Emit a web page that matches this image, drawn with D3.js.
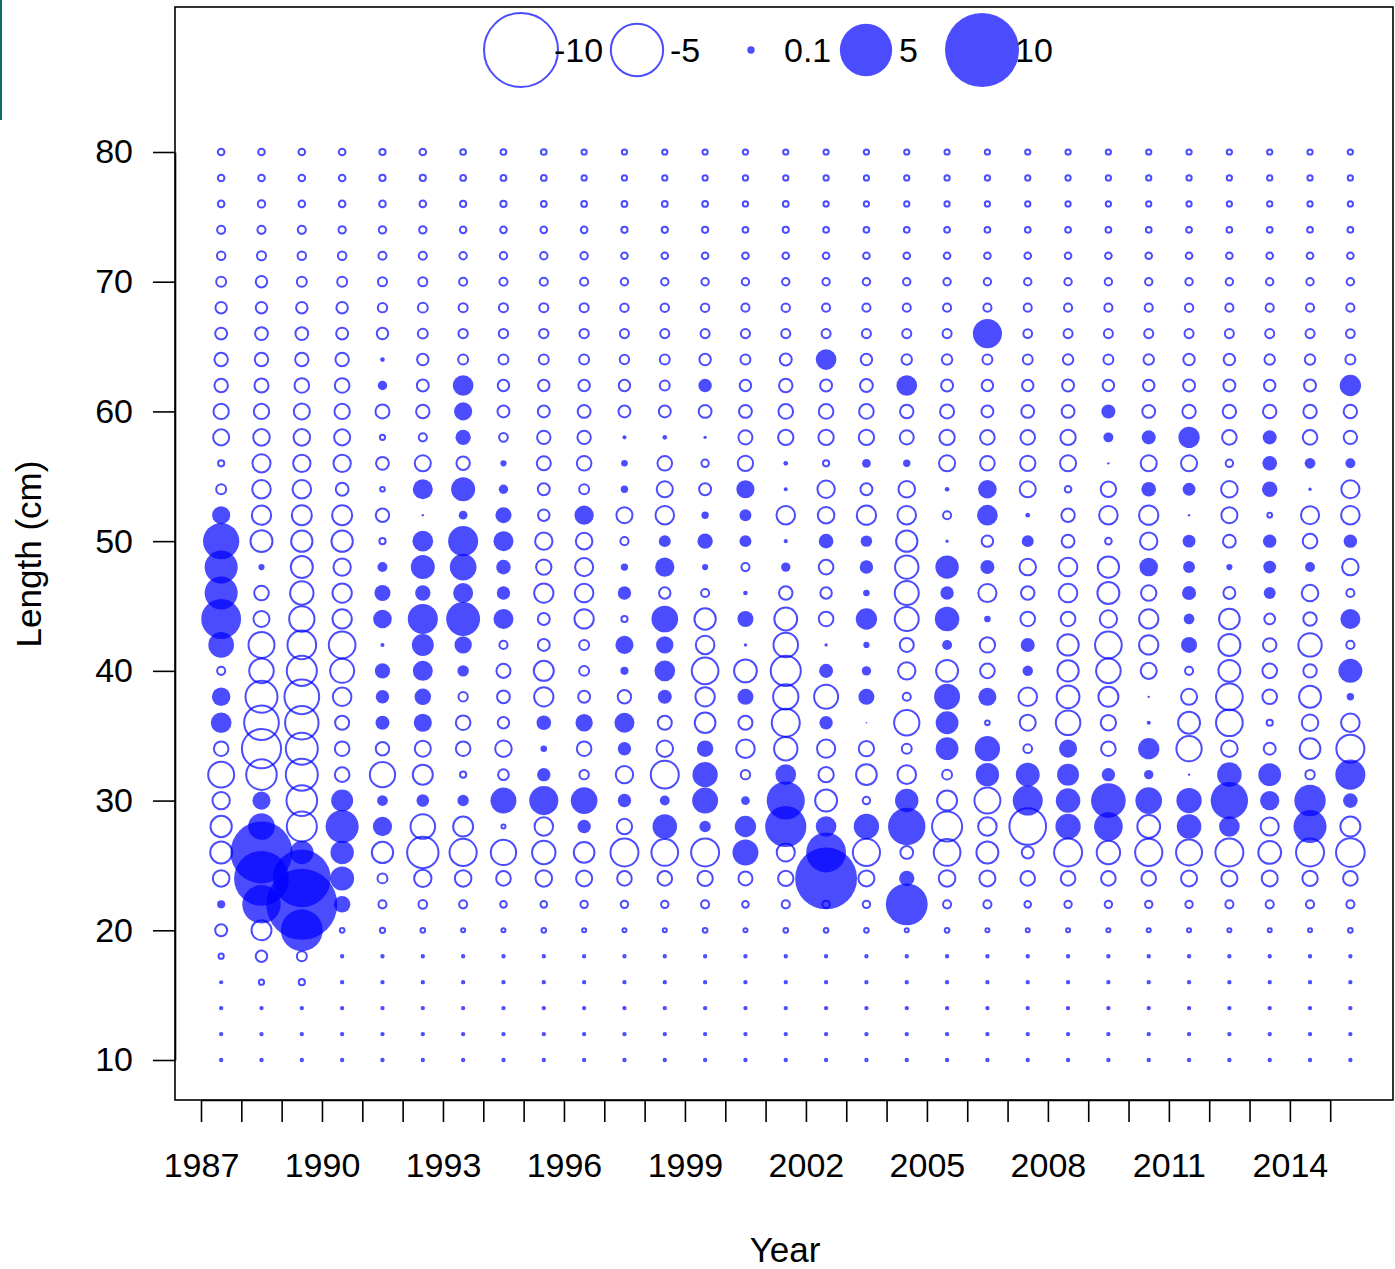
<!DOCTYPE html>
<html><head><meta charset="utf-8">
<script src="https://cdn.jsdelivr.net/npm/d3@7"></script>
<style>
body{margin:0;background:#fff}
text{font-family:"Liberation Sans",Arial,sans-serif}
</style>
</head><body>
<svg id="chart" width="1395" height="1269"></svg>
<script>
// ---------------- DATA ----------------
const years = [1987,1988,1989,1990,1991,1992,1993,1994,1995,1996,1997,1998,1999,2000,2001,2002,2003,2004,2005,2006,2007,2008,2009,2010,2011,2012,2013,2014,2015];
const lengths = [80,78,76,74,72,70,68,66,64,62,60,58,56,54,52,50,48,46,44,42,40,38,36,34,32,30,28,26,24,22,20,18,16,14,12,10];
const yTickValues = [10,20,30,40,50,60,70,80];
const xTickLabels = [1987,1990,1993,1996,1999,2002,2005,2008,2011,2014];
const legendValues = [-10,-5,0.1,5,10];
const legendLabels = ["-10","-5","0.1","5","10"];
const xLabel = "Year";
const yLabel = "Length (cm)";

// Pearson residuals, one array per year, lengths 80 -> 10
const r1987 = [-0.08,-0.08,-0.08,-0.12,-0.13,-0.18,-0.24,-0.26,-0.33,-0.33,-0.43,-0.47,-0.07,-0.18,0.6,2.4,2.0,2.0,2.9,1.2,-0.12,0.63,0.78,-0.39,-1.23,-0.55,-0.83,-0.88,-0.5,0.12,-0.26,-0.05,0.03,-0.01,-0.01,-0.01];
const r1988 = [-0.08,-0.08,-0.1,-0.12,-0.15,-0.24,-0.24,-0.3,-0.33,-0.36,-0.43,-0.5,-0.6,-0.63,-0.68,-0.88,0.07,-0.39,-0.47,-1.23,-1.1,-1.87,-2.2,-2.8,-1.7,0.6,1.3,7.0,5.5,2.7,-0.73,-0.24,-0.05,-0.01,-0.01,-0.01];
const r1989 = [-0.08,-0.08,-0.08,-0.12,-0.13,-0.18,-0.24,-0.3,-0.33,-0.39,-0.47,-0.5,-0.55,-0.63,-0.73,-0.83,-0.88,-1.0,-1.17,-1.5,-1.65,-2.2,-2.05,-1.87,-1.87,-1.72,-1.65,1.0,6.1,9.2,3.2,-0.18,-0.07,-0.01,-0.01,-0.01];
const r1990 = [-0.08,-0.08,-0.08,-0.1,-0.13,-0.18,-0.24,-0.26,-0.33,-0.39,-0.43,-0.47,-0.55,-0.3,-0.73,-0.83,-0.55,-0.68,-0.68,-1.3,-1.05,-0.63,-0.36,-0.39,-0.39,0.88,2.0,1.0,1.05,0.5,-0.04,-0.01,-0.01,-0.01,-0.01,-0.01];
const r1991 = [-0.07,-0.07,-0.08,-0.1,-0.12,-0.15,-0.16,-0.24,0.04,0.16,-0.36,-0.05,-0.3,-0.04,-0.33,-0.07,0.18,0.47,0.63,0.03,0.43,0.33,0.36,-0.33,-1.17,0.21,0.68,-0.83,-0.18,-0.12,-0.05,-0.01,-0.01,-0.01,-0.01,-0.01];
const r1992 = [-0.08,-0.07,-0.08,-0.1,-0.12,-0.15,-0.18,-0.18,-0.24,-0.26,-0.33,-0.12,-0.47,0.73,0.01,0.78,1.05,0.43,1.65,0.88,0.73,0.5,0.6,-0.47,-0.73,0.29,-1.1,-1.8,-0.55,-0.14,-0.04,-0.01,-0.01,-0.01,-0.01,-0.01];
const r1993 = [-0.06,-0.06,-0.07,-0.08,-0.1,-0.12,-0.15,-0.16,-0.18,0.78,0.6,0.43,-0.33,1.05,0.14,1.65,1.3,0.73,2.1,0.55,0.24,-0.16,-0.39,-0.39,-0.07,0.24,-0.73,-1.35,-0.5,-0.12,-0.03,-0.01,-0.01,-0.01,-0.01,-0.01];
const r1994 = [-0.06,-0.06,-0.07,-0.08,-0.1,-0.12,-0.15,-0.16,-0.18,-0.24,-0.26,-0.14,0.07,0.16,0.47,0.73,0.39,0.33,0.73,-0.12,-0.36,-0.3,-0.24,-0.5,-0.21,1.23,-0.03,-1.17,-0.39,-0.08,-0.03,-0.01,-0.01,-0.01,-0.01,-0.01];
const r1995 = [-0.06,-0.06,-0.06,-0.08,-0.1,-0.12,-0.15,-0.16,-0.18,-0.24,-0.26,-0.33,-0.36,-0.26,-0.24,-0.55,-0.43,-0.68,-0.26,-0.26,-0.73,-0.68,0.39,0.08,0.33,1.55,-0.63,-1.0,-0.5,-0.08,-0.04,-0.01,-0.01,-0.01,-0.01,-0.01];
const r1996 = [-0.05,-0.05,-0.06,-0.08,-0.1,-0.12,-0.15,-0.16,-0.18,-0.24,-0.3,-0.33,-0.39,-0.18,0.68,-0.5,-0.6,-0.63,-0.68,-0.18,-0.18,-0.26,0.55,-0.39,-0.16,1.3,0.33,-0.78,-0.47,-0.1,-0.03,-0.01,-0.01,-0.01,-0.01,-0.01];
const r1997 = [-0.05,-0.05,-0.06,-0.07,-0.08,-0.1,-0.13,-0.15,-0.16,-0.24,-0.26,0.03,0.08,0.1,-0.47,-0.12,0.1,0.33,-0.07,0.6,0.12,-0.33,0.73,0.33,-0.55,0.33,-0.43,-1.43,-0.39,-0.1,-0.03,-0.01,-0.01,-0.01,-0.01,-0.01];
const r1998 = [-0.05,-0.05,-0.06,-0.07,-0.08,-0.1,-0.13,-0.15,-0.18,-0.18,-0.26,0.04,-0.39,-0.47,-0.63,0.26,0.68,-0.24,1.3,0.55,0.78,0.36,-0.36,-0.5,-1.43,0.18,1.1,-1.3,-0.39,-0.1,-0.03,-0.01,-0.01,-0.01,-0.01,-0.01];
const r1999 = [-0.05,-0.05,-0.06,-0.07,-0.08,-0.1,-0.13,-0.15,-0.24,0.33,-0.3,0.02,-0.1,-0.26,0.1,0.43,0.07,-0.12,-0.83,-0.63,-1.3,-0.68,-0.78,0.5,1.17,1.23,0.24,-1.43,-0.43,-0.12,-0.04,-0.01,-0.01,-0.01,-0.01,-0.01];
const r2000 = [-0.05,-0.05,-0.05,-0.06,-0.08,-0.1,-0.12,-0.15,-0.18,-0.24,-0.3,-0.36,-0.43,0.6,0.26,0.26,-0.12,0.04,0.47,0.02,-0.95,0.47,-0.36,-0.63,-0.16,0.14,0.83,1.23,-0.36,-0.08,-0.03,-0.01,-0.01,-0.01,-0.01,-0.01];
const r2001 = [-0.05,-0.05,-0.06,-0.07,-0.08,-0.1,-0.13,-0.15,-0.26,-0.33,-0.39,-0.43,0.04,0.03,-0.63,0.03,0.16,-0.33,-0.95,-1.1,-1.65,-1.17,-1.43,-1.0,0.78,2.65,3.1,-0.6,-0.43,-0.12,-0.04,-0.01,-0.01,-0.01,-0.01,-0.01];
const r2002 = [-0.05,-0.05,-0.05,-0.06,-0.08,-0.1,-0.12,-0.15,0.78,-0.26,-0.39,-0.43,-0.07,-0.55,-0.5,0.39,-0.39,-0.24,-0.39,0.02,0.36,-1.05,0.33,-0.6,-0.43,-0.88,0.78,2.9,7.0,-0.1,-0.04,-0.01,-0.01,-0.01,-0.01,-0.01];
const r2003 = [-0.05,-0.05,-0.05,-0.06,-0.08,-0.1,-0.12,-0.15,-0.24,-0.3,-0.39,-0.43,0.14,-0.26,-0.68,0.24,0.33,0.08,0.83,0.07,0.16,0.47,0.005,-0.43,-0.78,-0.1,1.17,-1.35,-0.47,-0.1,-0.04,-0.01,-0.01,-0.01,-0.01,-0.01];
const r2004 = [-0.05,-0.05,-0.05,-0.06,-0.08,-0.1,-0.12,-0.15,-0.2,0.78,-0.33,-0.36,0.1,-0.5,-0.63,-0.83,-1.0,-1.05,-1.05,-0.36,-0.55,-0.12,-1.17,-0.18,-0.63,1.0,2.55,-0.3,0.43,3.2,-0.03,-0.01,-0.01,-0.01,-0.01,-0.01];
const r2005 = [-0.05,-0.05,-0.05,-0.06,-0.08,-0.1,-0.12,-0.15,-0.2,-0.26,-0.36,-0.43,-0.47,0.04,-0.12,0.02,1.0,0.33,1.1,0.18,-0.88,1.23,0.95,0.95,-0.18,-0.73,-1.65,-1.3,-0.5,-0.12,-0.04,-0.01,-0.01,-0.01,-0.01,-0.01];
const r2006 = [-0.05,-0.05,-0.05,-0.06,-0.08,-0.1,-0.12,1.55,-0.18,-0.24,-0.26,-0.39,-0.39,0.63,0.78,-0.24,0.36,-0.6,0.08,-0.43,-0.39,0.6,-0.04,1.17,1.0,-1.23,-0.63,-0.88,-0.47,-0.12,-0.03,-0.01,-0.01,-0.01,-0.01,-0.01];
const r2007 = [-0.05,-0.05,-0.05,-0.06,-0.08,-0.1,-0.12,-0.14,-0.18,-0.24,-0.3,-0.39,-0.43,-0.47,0.04,0.26,-0.5,-0.33,-0.39,0.36,0.2,-0.63,-0.47,-0.14,1.05,1.65,-2.45,-0.26,-0.39,-0.08,-0.03,-0.01,-0.01,-0.01,-0.01,-0.01];
const r2008 = [-0.05,-0.05,-0.05,-0.06,-0.08,-0.1,-0.12,-0.15,-0.2,-0.26,-0.3,-0.43,-0.47,-0.08,-0.33,-0.3,-0.63,-0.63,-0.39,-0.83,-0.83,-0.95,-1.1,0.6,0.88,1.1,1.17,-1.43,-0.39,-0.1,-0.03,-0.01,-0.01,-0.01,-0.01,-0.01];
const r2009 = [-0.05,-0.05,-0.05,-0.06,-0.08,-0.1,-0.12,-0.15,-0.18,-0.24,0.36,0.18,0.01,-0.43,-0.63,-0.08,-0.83,-0.88,-0.55,-1.3,-1.1,-0.73,-0.43,-0.39,0.33,2.2,1.5,-1.0,-0.39,-0.1,-0.03,-0.01,-0.01,-0.01,-0.01,-0.01];
const r2010 = [-0.05,-0.05,-0.05,-0.06,-0.08,-0.1,-0.12,-0.15,-0.2,-0.24,-0.3,0.36,-0.47,0.39,-0.68,-0.55,0.63,-0.43,-0.68,-0.68,-0.47,0.01,0.03,0.83,0.16,1.3,-0.95,-1.35,-0.39,-0.1,-0.03,-0.01,-0.01,-0.01,-0.01,-0.01];
const r2011 = [-0.05,-0.05,-0.05,-0.06,-0.08,-0.1,-0.13,-0.15,-0.24,-0.26,-0.33,0.83,-0.47,0.3,0.01,0.3,0.26,0.36,0.21,0.47,-0.12,-0.47,-0.88,-1.17,0.01,1.17,1.1,-1.23,-0.47,-0.1,-0.03,-0.01,-0.01,-0.01,-0.01,-0.01];
const r2012 = [-0.05,-0.05,-0.05,-0.06,-0.08,-0.1,-0.12,-0.15,-0.24,-0.26,-0.33,-0.39,-0.1,-0.5,-0.47,-0.3,0.07,-0.26,-0.78,-0.88,-0.88,-1.3,-1.3,-0.5,1.1,2.55,0.78,-1.43,-0.47,-0.12,-0.03,-0.01,-0.01,-0.01,-0.01,-0.01];
const r2013 = [-0.05,-0.05,-0.05,-0.06,-0.08,-0.1,-0.12,-0.15,-0.2,-0.24,-0.33,0.36,0.39,0.43,-0.04,0.33,0.3,0.26,-0.21,-0.33,-0.39,-0.39,-0.07,-0.26,0.95,0.68,-0.6,-0.95,-0.47,-0.12,-0.03,-0.01,-0.01,-0.01,-0.01,-0.01];
const r2014 = [-0.05,-0.05,-0.05,-0.06,-0.08,-0.1,-0.12,-0.15,-0.2,-0.26,-0.33,-0.39,0.21,0.02,-0.6,-0.39,0.18,-0.5,-0.33,-1.0,-0.33,-0.88,-0.5,-0.78,-0.16,1.8,2.0,-1.43,-0.43,-0.12,-0.03,-0.01,-0.01,-0.01,-0.01,-0.01];
const r2015 = [-0.05,-0.05,-0.05,-0.06,-0.08,-0.1,-0.12,-0.14,-0.18,0.83,-0.33,-0.33,0.18,-0.6,-0.63,0.33,-0.5,-0.12,0.73,-0.12,1.05,0.1,-0.63,-1.43,1.65,0.39,-0.73,-1.5,-0.39,-0.12,-0.04,-0.01,-0.01,-0.01,-0.01,-0.01];

const residualsByYear = [r1987,r1988,r1989,r1990,r1991,r1992,r1993,r1994,r1995,r1996,r1997,r1998,r1999,r2000,r2001,r2002,r2003,r2004,r2005,r2006,r2007,r2008,r2009,r2010,r2011,r2012,r2013,r2014,r2015];

// ---------------- DRAWING ----------------
const svg = d3.select("#chart");
const box = {left:175, top:7, right:1393, bottom:1100};
const blue = "rgba(0,0,255,0.7)";
const FS = 34;
const SW = 2;

// decorative teal edge line at top-left
svg.append("rect").attr("x",0).attr("y",0).attr("width",2).attr("height",120).attr("fill","#0e6b60");

const x = d3.scaleLinear().domain([1987, 2015]).range([201, 1330.2]);
const y = d3.scaleLinear().domain([10, 80]).range([1060, 152]);
const size = d3.scaleSqrt().domain([0, 10]).range([0, 37]);

// flatten data
const points = [];
years.forEach((yr, i) => {
  residualsByYear[i].forEach((v, j) => {
    points.push({year: yr, len: lengths[j], v: v});
  });
});
points.sort((a, b) => Math.abs(b.v) - Math.abs(a.v));

svg.append("g").selectAll("circle").data(points).join("circle")
  .attr("cx", d => x(d.year + 0.5))
  .attr("cy", d => y(d.len))
  .attr("r", d => size(Math.abs(d.v)))
  .attr("fill", d => d.v > 0 ? blue : "none")
  .attr("stroke", d => d.v > 0 ? "none" : blue)
  .attr("stroke-width", SW);

// plot box
svg.append("rect")
  .attr("x", box.left).attr("y", box.top)
  .attr("width", box.right - box.left).attr("height", box.bottom - box.top)
  .attr("fill", "none").attr("stroke", "#000").attr("stroke-width", 1.6);

// y axis
const yAxis = d3.axisLeft(y).tickValues(yTickValues).tickSize(22).tickSizeOuter(0).tickPadding(20).tickFormat(d3.format("d"));
const gy = svg.append("g").attr("transform", `translate(${box.left},0)`).call(yAxis);
gy.selectAll("text").attr("font-size", FS).attr("fill", "#000").attr("font-family", '"Liberation Sans",Arial,sans-serif');
gy.selectAll("line,path").attr("stroke", "#000").attr("stroke-width", 1.6);

// x axis
const xAxis = d3.axisBottom(x).tickValues(years).tickSize(22).tickSizeOuter(0).tickPadding(31)
  .tickFormat(d => xTickLabels.includes(d) ? String(d) : "");
const gx = svg.append("g").attr("transform", `translate(0,${box.bottom})`).call(xAxis);
gx.selectAll("text").attr("font-size", FS).attr("fill", "#000").attr("font-family", '"Liberation Sans",Arial,sans-serif');
gx.selectAll("line,path").attr("stroke", "#000").attr("stroke-width", 1.6);

// axis titles
svg.append("text").attr("x", 785).attr("y", 1262).attr("text-anchor", "middle")
  .attr("font-size", 35).text(xLabel);
svg.append("text").attr("transform", "translate(41,554) rotate(-90)").attr("text-anchor", "middle")
  .attr("font-size", 35).text(yLabel);

// legend
const legendX = d3.scaleOrdinal().domain(legendValues).range([521, 637, 751, 866, 982]);
const lg = svg.append("g");
lg.selectAll("circle").data(legendValues).join("circle")
  .attr("cx", d => legendX(d)).attr("cy", 50)
  .attr("r", d => size(Math.abs(d)))
  .attr("fill", d => d > 0 ? blue : "none")
  .attr("stroke", d => d > 0 ? "none" : blue)
  .attr("stroke-width", SW);
lg.selectAll("text").data(legendValues).join("text")
  .attr("x", d => legendX(d) + 33).attr("y", 62)
  .attr("font-size", FS)
  .text((d, i) => legendLabels[i]);
</script>
</body></html>
